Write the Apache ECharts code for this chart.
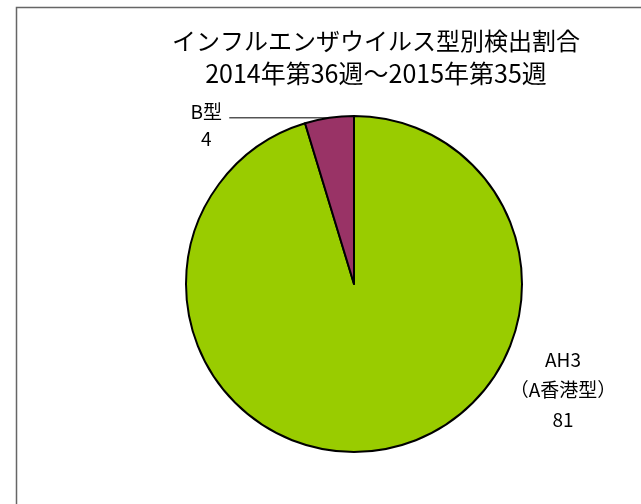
<!DOCTYPE html>
<html>
<head>
<meta charset="utf-8">
<script src="https://cdn.jsdelivr.net/npm/echarts@6/dist/echarts.min.js"></script>
<style>
  html, body { margin: 0; padding: 0; background: #fff; }
  #main { width: 641px; height: 504px; }
</style>
</head>
<body>
<div id="main"></div>
<script>
// 型別の名前と検出数
const names = ['AH3\n（A香港型）', 'B型']
const counts = [81, 4]
const colors = ['#99cc00', '#993366']

const titleLines = ['インフルエンザウイルス型別検出割合', '2014年第36週～2015年第35週']

const myChart = echarts.init(document.getElementById('main'))

const option = {
  backgroundColor: '#fff',
  textStyle: {
    fontFamily: '"Noto Sans CJK JP", sans-serif',
    color: '#000'
  },
  title: {
    text: '{a|' + titleLines[0] + '}\n{b|' + titleLines[1] + '}',
    left: 371,
    top: 19,
    textAlign: 'center',
    textStyle: {
      fontSize: 24,
      fontWeight: 'normal',
      lineHeight: 33,
      color: '#000',
      rich: {
        a: { fontSize: 24, lineHeight: 33, color: '#000' },
        b: { fontSize: 25, lineHeight: 33, color: '#000' }
      }
    }
  },
  graphic: [
    {
      type: 'rect',
      shape: { x: 16.5, y: 7.5, width: 700, height: 600 },
      style: { fill: 'none', stroke: '#666', lineWidth: 1.5 },
      silent: true
    }
  ],
  series: [
    {
      type: 'pie',
      center: [354, 284],
      radius: 168,
      startAngle: 90,
      clockwise: true,
      animation: false,
      itemStyle: { borderColor: '#000', borderWidth: 2 },
      label: {
        show: true,
        fontSize: 19,
        color: '#000',
        align: 'center',
        formatter: p => p.name + '\n' + p.value
      },
      labelLine: {
        show: true,
        length: 0,
        length2: 100,
        lineStyle: { color: '#000', width: 1 }
      },
      labelLayout: function (params) {
        if (params.dataIndex === 0) {
          return { x: 563, y: 390, align: 'center', verticalAlign: 'middle' }
        }
        return { dy: 7 }
      },
      data: names.map((n, i) => ({
        name: n,
        value: counts[i],
        itemStyle: { color: colors[i] },
        label: i === 0
          ? { lineHeight: 30 }
          : {
              // 2行を中央揃えにするため固定幅のリッチテキストにする
              formatter: p => '{t|' + p.name + '}\n{t|' + p.value + '}',
              rich: {
                t: { width: 36, align: 'center', fontSize: 19, lineHeight: 27, color: '#000' }
              }
            },
        labelLine: i === 0 ? { show: false } : {}
      }))
    }
  ]
}

myChart.setOption(option)
</script>
</body>
</html>
